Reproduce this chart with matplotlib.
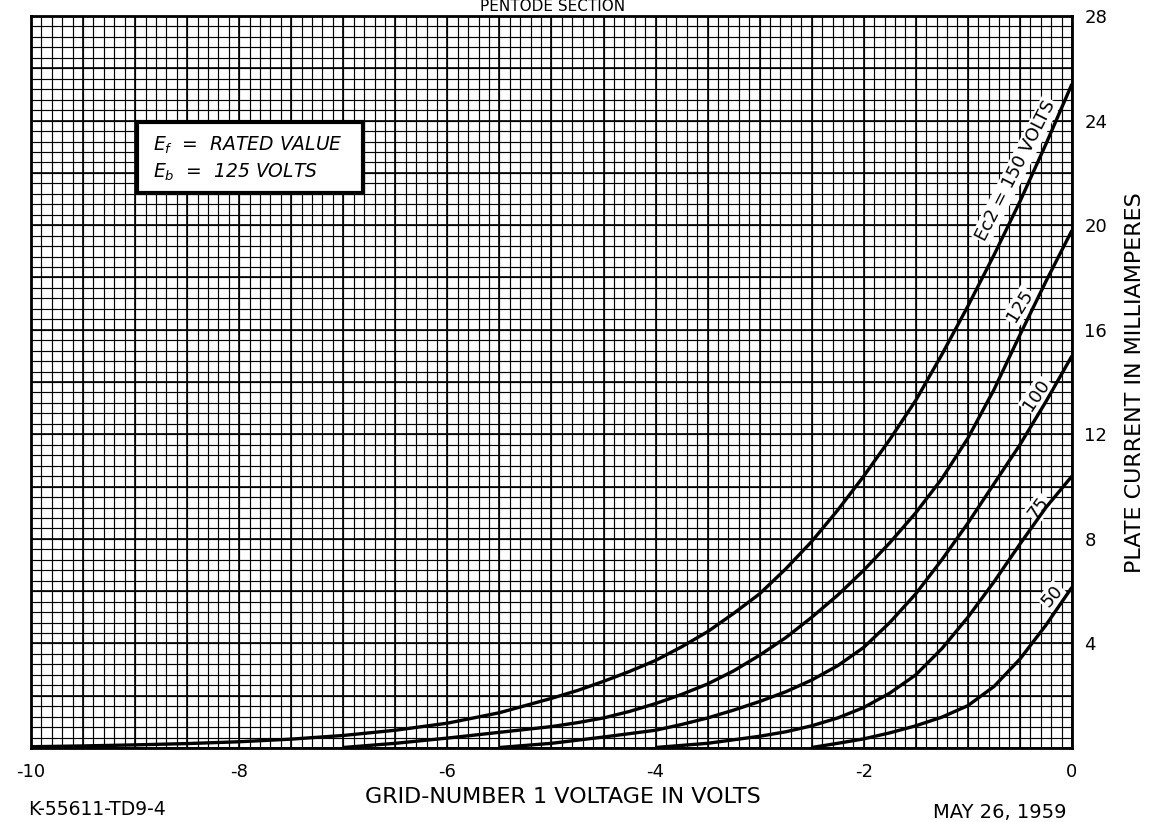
import numpy as np
import matplotlib
matplotlib.use("Agg")
import matplotlib.pyplot as plt
from matplotlib.patches import Rectangle

# ---- data ----
v150 = [-10, -9.5, -9, -8.5, -8, -7.5, -7, -6.5, -6, -5.5, -5, -4.75, -4.5, -4.25, -4,
        -3.75, -3.5, -3.25, -3, -2.75, -2.5, -2.25, -2, -1.75, -1.5, -1.25, -1, -0.75,
        -0.5, -0.25, 0]
i150 = [0.05, 0.08, 0.12, 0.17, 0.24, 0.34, 0.48, 0.68, 0.95, 1.35, 1.9, 2.2, 2.55, 2.93, 3.35,
        3.87, 4.45, 5.15, 5.9, 6.85, 7.9, 9.1, 10.4, 11.8, 13.3, 15.05, 16.9, 18.85,
        20.9, 23.1, 25.4]

v125 = [-7, -6.5, -6, -5.5, -5, -4.75, -4.5, -4.25, -4, -3.75, -3.5, -3.25, -3, -2.75,
        -2.5, -2.25, -2, -1.75, -1.5, -1.25, -1, -0.75, -0.5, -0.25, 0]
i125 = [0.02, 0.18, 0.38, 0.6, 0.82, 0.97, 1.15, 1.4, 1.7, 2.05, 2.45, 2.95, 3.55, 4.22,
        5.0, 5.85, 6.8, 7.85, 9.0, 10.3, 11.85, 13.7, 15.8, 17.85, 19.8]

v100 = [-5.5, -5, -4.5, -4, -3.75, -3.5, -3.25, -3, -2.75, -2.5, -2.25, -2, -1.75, -1.5,
        -1.25, -1, -0.75, -0.5, -0.25, 0]
i100 = [0.02, 0.18, 0.42, 0.68, 0.9, 1.15, 1.45, 1.78, 2.15, 2.6, 3.15, 3.85, 4.8, 5.9,
        7.2, 8.6, 10.1, 11.6, 13.25, 15.0]

v75 = [-4, -3.5, -3, -2.75, -2.5, -2.25, -2, -1.75, -1.5, -1.25, -1, -0.75, -0.5, -0.25, 0]
i75 = [0.02, 0.18, 0.45, 0.62, 0.85, 1.15, 1.55, 2.1, 2.8, 3.8, 5.0, 6.35, 7.8, 9.2, 10.4]

v50 = [-2.5, -2.25, -2, -1.75, -1.5, -1.25, -1, -0.75, -0.5, -0.25, 0]
i50 = [0.02, 0.18, 0.35, 0.58, 0.85, 1.18, 1.62, 2.35, 3.4, 4.7, 6.15]

curve_labels = ["Ec2 = 150 VOLTS", "125", "100", "75", "50"]
label_pos = [(-0.54, 22.1), (-0.50, 16.9), (-0.34, 13.5), (-0.32, 9.2), (-0.19, 5.8)]
label_rot = [63, 58, 56, 53, 49]

xtick_vals = [-10, -8, -6, -4, -2, 0]
xtick_labels = ["-10", "-8", "-6", "-4", "-2", "0"]
ytick_vals = [4, 8, 12, 16, 20, 24, 28]
ytick_labels = ["4", "8", "12", "16", "20", "24", "28"]

# ---- figure ----
fig = plt.figure(figsize=(11.53, 8.22), dpi=100)
ax = fig.add_axes([0.0269, 0.0900, 0.9028, 0.8905])
ax.set_xlim(-10, 0)
ax.set_ylim(0, 28)

# graph-paper grid
ax.vlines(np.arange(-10, 0.001, 0.1), 0, 28, colors="black", lw=0.85, zorder=1)
ax.hlines(np.arange(0, 28.001, 0.4), -10, 0, colors="black", lw=0.85, zorder=1)
ax.vlines(np.arange(-10, 0.001, 0.5), 0, 28, colors="black", lw=1.2, zorder=1)
ax.hlines(np.arange(0, 28.001, 2.0), -10, 0, colors="black", lw=1.2, zorder=1)

for v, i in [(v150, i150), (v125, i125), (v100, i100), (v75, i75), (v50, i50)]:
    ax.plot(v, i, color="black", lw=2.4, zorder=4, solid_capstyle="butt",
            solid_joinstyle="round")

for txt, (x, y), r in zip(curve_labels, label_pos, label_rot):
    ax.text(x, y, txt, rotation=r, rotation_mode="anchor", ha="center", va="center",
            fontsize=13, color="black", zorder=3,
            bbox=dict(facecolor="white", edgecolor="none", pad=1.0))

# legend box
ax.add_patch(Rectangle((0.102, 0.758), 0.217, 0.097, transform=ax.transAxes,
                       facecolor="white", edgecolor="black", lw=3, zorder=5))
ax.text(0.117, 0.824, r"$E_f$  =  RATED VALUE", transform=ax.transAxes, fontsize=13.5,
        style="italic", va="center", ha="left", zorder=6)
ax.text(0.117, 0.786, r"$E_b$  =  125 VOLTS", transform=ax.transAxes, fontsize=13.5,
        style="italic", va="center", ha="left", zorder=6)

for s in ax.spines.values():
    s.set_linewidth(2)
    s.set_color("black")
    s.set_zorder(7)

ax.set_xticks(xtick_vals)
ax.set_xticklabels(xtick_labels, fontsize=13)
ax.yaxis.tick_right()
ax.set_yticks(ytick_vals)
ax.set_yticklabels(ytick_labels, fontsize=13)
ax.tick_params(axis="x", length=0, pad=11)
ax.tick_params(axis="y", length=0, pad=9)

fig.text(0.488, 0.0304, "GRID-NUMBER 1 VOLTAGE IN VOLTS", ha="center", va="center", fontsize=16)
fig.text(0.984, 0.534, "PLATE CURRENT IN MILLIAMPERES", ha="center", va="center",
         rotation=90, fontsize=16)
fig.text(0.479, 0.9915, "PENTODE SECTION", ha="center", va="center", fontsize=11)
fig.text(0.084, 0.0146, "K-55611-TD9-4", ha="center", va="center", fontsize=13.5)
fig.text(0.867, 0.011, "MAY 26, 1959", ha="center", va="center", fontsize=14)

fig.savefig("out.png", dpi=100)
